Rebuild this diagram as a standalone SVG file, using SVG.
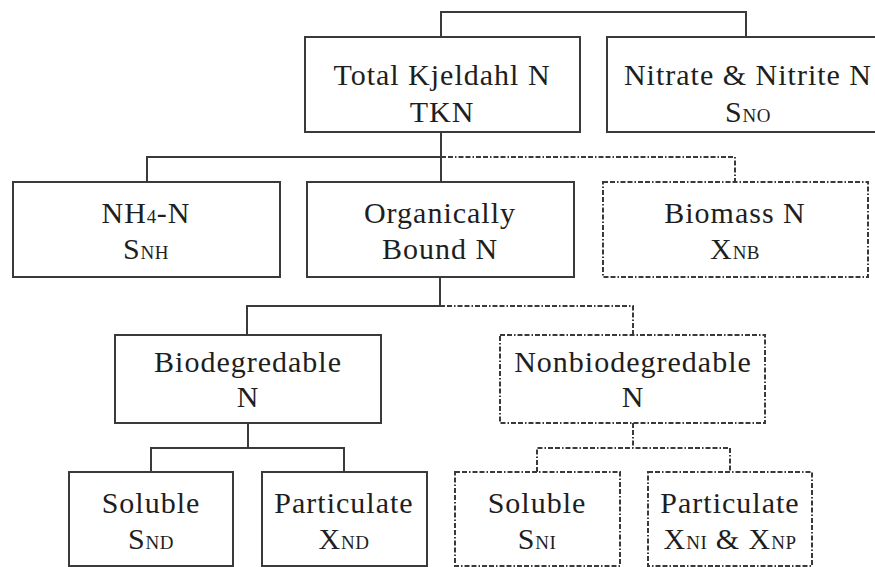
<svg xmlns="http://www.w3.org/2000/svg" width="875" height="567" viewBox="0 0 875 567">
<style>
.box{fill:#fff;stroke:#3a3a3a;stroke-width:2}
.dbox{fill:#fff;stroke:#3a3a3a;stroke-width:2;stroke-dasharray:5 2 5 2 1.5 2}
.ln{fill:none;stroke:#3a3a3a;stroke-width:2}
.dln{fill:none;stroke:#3a3a3a;stroke-width:2;stroke-dasharray:5 2 5 2 1.5 2}
text{font-family:"Liberation Serif","Times New Roman",serif;font-size:30px;letter-spacing:1px;fill:#1e1e1e;text-anchor:middle}
.s{font-size:19px;letter-spacing:0.5px}
</style>
<rect width="875" height="567" fill="#fff"/>
<g id="connectors">
<path class="ln" d="M441,37 V12 H746 V37"/>
<path class="ln" d="M441,132 V182 M441,157 H147 V182"/>
<path class="dln" d="M441,157 H735 V182"/>
<path class="ln" d="M440,277 V306 H247 V335"/>
<path class="dln" d="M440,306 H633 V335"/>
<path class="ln" d="M248,423 V448 M151,472 V448 H344 V472"/>
<path class="dln" d="M633,423 V448 M537,472 V448 H730 V472"/>
</g>
<g id="tkn"><rect class="box" x="305" y="37" width="275" height="95"/>
<text x="442" y="85">Total Kjeldahl N</text><text x="442" y="122">TKN</text></g>
<g id="nitrate"><rect class="box" x="607" y="37" width="290" height="95"/>
<text x="748" y="85">Nitrate &amp; Nitrite N</text><text x="748" y="122">S<tspan class="s">NO</tspan></text></g>
<g id="nh4"><rect class="box" x="13" y="182" width="267" height="95"/>
<text x="146" y="223">NH<tspan class="s">4</tspan>-N</text><text x="146" y="259">S<tspan class="s">NH</tspan></text></g>
<g id="organic"><rect class="box" x="307" y="182" width="267" height="95"/>
<text x="440" y="223">Organically</text><text x="440" y="259">Bound N</text></g>
<g id="biomass"><rect class="dbox" x="603" y="182" width="265" height="95"/>
<text x="735" y="223">Biomass N</text><text x="735" y="259">X<tspan class="s">NB</tspan></text></g>
<g id="biodeg"><rect class="box" x="115" y="335" width="266" height="88"/>
<text x="248" y="372">Biodegredable</text><text x="248" y="407">N</text></g>
<g id="nonbiodeg"><rect class="dbox" x="500" y="335" width="265" height="88"/>
<text x="633" y="372">Nonbiodegredable</text><text x="633" y="407">N</text></g>
<g id="snd"><rect class="box" x="69" y="472" width="164" height="94"/>
<text x="151" y="513">Soluble</text><text x="151" y="549">S<tspan class="s">ND</tspan></text></g>
<g id="xnd"><rect class="box" x="262" y="472" width="165" height="94"/>
<text x="344" y="513">Particulate</text><text x="344" y="549">X<tspan class="s">ND</tspan></text></g>
<g id="sni"><rect class="dbox" x="455" y="472" width="165" height="94"/>
<text x="537" y="513">Soluble</text><text x="537" y="549">S<tspan class="s">NI</tspan></text></g>
<g id="xni"><rect class="dbox" x="648" y="472" width="164" height="94"/>
<text x="730" y="513">Particulate</text><text x="730" y="549">X<tspan class="s">NI</tspan> &amp; X<tspan class="s">NP</tspan></text></g>
</svg>
